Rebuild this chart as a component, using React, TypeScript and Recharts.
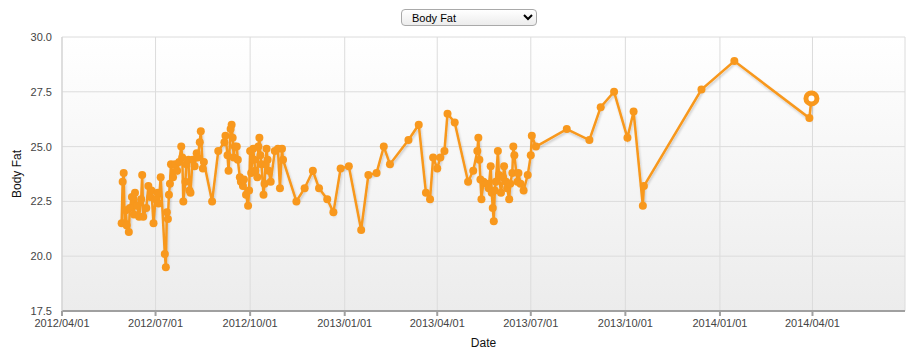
import React from 'react';
import { LineChart, Line, XAxis, YAxis, CartesianGrid } from 'recharts';

const dates = [
  '2012-05-29', '2012-05-30', '2012-05-31', '2012-06-01', '2012-06-02', '2012-06-03', '2012-06-05', '2012-06-06',
  '2012-06-08', '2012-06-10', '2012-06-11', '2012-06-13', '2012-06-15', '2012-06-17', '2012-06-18', '2012-06-19',
  '2012-06-22', '2012-06-24', '2012-06-26', '2012-06-27', '2012-06-29', '2012-07-01', '2012-07-03', '2012-07-04',
  '2012-07-06', '2012-07-10', '2012-07-11', '2012-07-12', '2012-07-13', '2012-07-14', '2012-07-15', '2012-07-16',
  '2012-07-18', '2012-07-20', '2012-07-22', '2012-07-24', '2012-07-26', '2012-07-27', '2012-07-28', '2012-07-30',
  '2012-07-31', '2012-08-02', '2012-08-03', '2012-08-04', '2012-08-06', '2012-08-08', '2012-08-10', '2012-08-11',
  '2012-08-13', '2012-08-14', '2012-08-16', '2012-08-17', '2012-08-25', '2012-08-31', '2012-09-06', '2012-09-07',
  '2012-09-09', '2012-09-10', '2012-09-12', '2012-09-13', '2012-09-14', '2012-09-15', '2012-09-16', '2012-09-18',
  '2012-09-19', '2012-09-21', '2012-09-22', '2012-09-24', '2012-09-25', '2012-09-27', '2012-09-29', '2012-09-30',
  '2012-10-01', '2012-10-02', '2012-10-04', '2012-10-05', '2012-10-06', '2012-10-08', '2012-10-09', '2012-10-10',
  '2012-10-11', '2012-10-12', '2012-10-14', '2012-10-15', '2012-10-16', '2012-10-17', '2012-10-18', '2012-10-19',
  '2012-10-21', '2012-10-25', '2012-10-28', '2012-10-30', '2012-11-01', '2012-11-02', '2012-11-15', '2012-11-23',
  '2012-12-01', '2012-12-07', '2012-12-15', '2012-12-21', '2012-12-28', '2013-01-05', '2013-01-17', '2013-01-24',
  '2013-02-01', '2013-02-08', '2013-02-14', '2013-03-04', '2013-03-14', '2013-03-21', '2013-03-25', '2013-03-28',
  '2013-04-01', '2013-04-04', '2013-04-08', '2013-04-11', '2013-04-18', '2013-05-01', '2013-05-06', '2013-05-10',
  '2013-05-11', '2013-05-12', '2013-05-13', '2013-05-14', '2013-05-16', '2013-05-19', '2013-05-21', '2013-05-23',
  '2013-05-24', '2013-05-25', '2013-05-26', '2013-05-27', '2013-05-28', '2013-05-30', '2013-05-31', '2013-06-02',
  '2013-06-04', '2013-06-05', '2013-06-07', '2013-06-08', '2013-06-10', '2013-06-11', '2013-06-13', '2013-06-14',
  '2013-06-15', '2013-06-18', '2013-06-19', '2013-06-21', '2013-06-24', '2013-06-28', '2013-07-01', '2013-07-02',
  '2013-07-06', '2013-08-05', '2013-08-27', '2013-09-07', '2013-09-20', '2013-10-03', '2013-10-09', '2013-10-18',
  '2013-10-19', '2013-12-14', '2014-01-15', '2014-03-29', '2014-03-31',
];

const bodyFat = [
  21.5, 23.4, 23.8, 21.5, 22.1, 21.4, 21.1, 22.2,
  22.7, 21.9, 22.9, 22.3, 21.8, 22.6, 23.7, 21.8,
  22.2, 23.2, 22.7, 23.0, 21.5, 22.6, 22.9, 22.4,
  23.6, 20.1, 19.5, 22.0, 21.7, 22.8, 23.3, 24.2,
  23.6, 24.2, 23.9, 24.3, 25.0, 24.5, 22.5, 23.4,
  24.2, 24.4, 23.0, 22.9, 24.4, 24.1, 24.7, 24.5,
  25.2, 25.7, 24.0, 24.3, 22.5, 24.8, 25.2, 25.5,
  24.6, 23.9, 25.8, 26.0, 25.4, 24.5, 25.0, 25.0,
  24.4, 23.6, 23.4, 23.2, 23.5, 22.8, 22.3, 23.0,
  24.8, 23.8, 24.9, 24.4, 23.9, 23.6, 25.0, 25.4,
  24.6, 24.2, 22.8, 23.3, 24.2, 24.9, 24.4, 23.9,
  23.4, 24.8, 24.9, 23.1, 24.9, 24.4, 22.5, 23.1,
  23.9, 23.1, 22.6, 22.0, 24.0, 24.1, 21.2, 23.7,
  23.8, 25.0, 24.2, 25.3, 26.0, 22.9, 22.6, 24.5,
  24.0, 24.5, 24.8, 26.5, 26.1, 23.4, 23.9, 24.8,
  25.4, 24.4, 23.5, 22.6, 23.4, 23.3, 23.1, 24.1,
  22.9, 22.2, 21.6, 23.0, 23.4, 24.8, 23.7, 22.9,
  23.6, 24.1, 23.4, 23.1, 22.6, 23.3, 23.8, 25.0,
  24.6, 23.4, 23.8, 23.3, 23.0, 23.7, 24.6, 25.5,
  25.0, 25.8, 25.3, 26.8, 27.5, 25.4, 26.6, 22.3,
  23.2, 27.6, 28.9, 26.3, 27.2,
];

const xTicks = [
  '2012/04/01', '2012/07/01', '2012/10/01', '2013/01/01', '2013/04/01',
  '2013/07/01', '2013/10/01', '2014/01/01', '2014/04/01',
];
const yTicks = [17.5, 20.0, 22.5, 25.0, 27.5, 30.0];
const xStart = '2012/04/01';
const xEnd = '2014/06/30';

const ORANGE = '#f8981d';
const FONT = '"Liberation Sans", Arial, sans-serif';

const toTime = (s: string) => {
  const [y, m, d] = s.split(/[-/]/).map(Number);
  return Date.UTC(y, m - 1, d);
};

const pad = (n: number) => (n < 10 ? '0' + n : '' + n);
const fmtDate = (t: number) => {
  const d = new Date(t);
  return `${d.getUTCFullYear()}/${pad(d.getUTCMonth() + 1)}/${pad(d.getUTCDate())}`;
};

const data = dates.map((d, i) => ({ t: toTime(d), value: bodyFat[i] }));
const lastIndex = data.length - 1;

const renderDot = (props: any) => {
  const { cx, cy, index } = props;
  if (cx == null || cy == null) return <g key={`d-${index}`} />;
  if (index === lastIndex) {
    return (
      <circle key={`d-${index}`} cx={cx} cy={cy} r={5.5} fill="#fff" stroke={ORANGE} strokeWidth={5} />
    );
  }
  return <circle key={`d-${index}`} cx={cx} cy={cy} r={4} fill={ORANGE} stroke="none" />;
};

export default function App() {
  return (
    <div style={{ position: 'absolute', left: 0, top: 0, width: 915, height: 361, background: '#fff' }}>
      <select
        defaultValue="Body Fat"
        style={{
          position: 'absolute',
          left: 401,
          top: 9,
          width: 136,
          height: 17,
          fontSize: 11,
          fontFamily: FONT,
          border: '1px solid #a9a9a9',
          borderRadius: 4,
          background: 'linear-gradient(#ffffff, #ececec)',
          paddingLeft: 6,
          zIndex: 2,
        }}
      >
        <option>Body Fat</option>
      </select>
      <LineChart
        width={915}
        height={361}
        data={data}
        margin={{ top: 37, right: 10, bottom: 24, left: 0 }}
        style={{ fontFamily: FONT }}
      >
        <defs>
          <linearGradient id="plotBg" x1="0" y1="0" x2="0" y2="1">
            <stop offset="0%" stopColor="#ffffff" />
            <stop offset="100%" stopColor="#ececec" />
          </linearGradient>
          <filter id="lineShadow" x="-5%" y="-5%" width="110%" height="120%">
            <feDropShadow dx="1" dy="2" stdDeviation="1.2" floodColor="#000" floodOpacity="0.18" />
          </filter>
        </defs>
        <CartesianGrid stroke="#dcdcdc" fill="url(#plotBg)" fillOpacity={1} />
        <XAxis
          dataKey="t"
          type="number"
          scale="time"
          domain={[toTime(xStart), toTime(xEnd)]}
          ticks={xTicks.map(toTime)}
          tickFormatter={fmtDate}
          height={26}
          tickSize={5}
          tickMargin={3}
          stroke="#a0a0a0"
          strokeWidth={2}
          tick={{ fill: '#444', fontSize: 11 }}
          allowDataOverflow
          label={{ value: 'Date', position: 'bottom', offset: 1, fill: '#111', fontSize: 12 }}
        />
        <YAxis
          type="number"
          domain={[17.5, 30]}
          ticks={yTicks}
          tickFormatter={(v: number) => v.toFixed(1)}
          width={62}
          tickLine={false}
          tickMargin={4}
          stroke="#cfcfcf"
          tick={{ fill: '#444', fontSize: 11 }}
          label={{ value: 'Body Fat', angle: -90, position: 'insideLeft', offset: 17, fill: '#111', fontSize: 12, style: { textAnchor: 'middle' } }}
        />
        <Line
          type="linear"
          dataKey="value"
          stroke={ORANGE}
          strokeWidth={2.5}
          dot={renderDot}
          activeDot={false}
          filter="url(#lineShadow)"
          isAnimationActive={false}
        />
      </LineChart>
    </div>
  );
}
